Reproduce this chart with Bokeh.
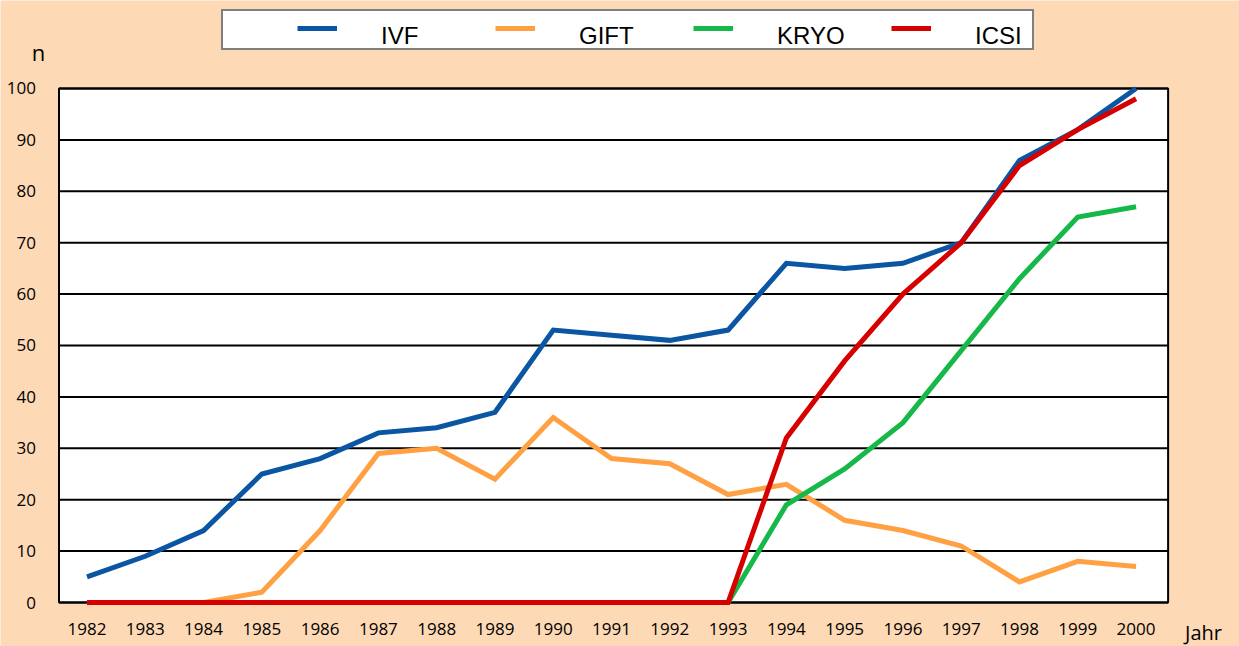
from bokeh.plotting import figure
from bokeh.models import Range1d, FixedTicker, Legend, LegendItem, Label, LinearAxis
from bokeh.embed import file_html
from bokeh.resources import INLINE

years = [1982, 1983, 1984, 1985, 1986, 1987, 1988, 1989, 1990, 1991,
         1992, 1993, 1994, 1995, 1996, 1997, 1998, 1999, 2000]
ivf = [5, 9, 14, 25, 28, 33, 34, 37, 53, 52, 51, 53, 66, 65, 66, 70, 86, 92, 100]
gift = [0, 0, 0, 2, 14, 29, 30, 24, 36, 28, 27, 21, 23, 16, 14, 11, 4, 8, 7]
kryo = [0, 0, 0, 0, 0, 0, 0, 0, 0, 0, 0, 0, 19, 26, 35, 49, 63, 75, 77]
icsi = [0, 0, 0, 0, 0, 0, 0, 0, 0, 0, 0, 0, 32, 47, 60, 70, 85, 92, 98]
y_ticks = [0, 10, 20, 30, 40, 50, 60, 70, 80, 90, 100]
series_names = ["IVF", "GIFT", "KRYO", "ICSI"]

PEACH = "#FDD9B5"
COLORS = ["#0A56A3", "#FFA043", "#17B84A", "#D70000"]

# plot-area extent (in data units) and the whole-canvas view range
X_LO, X_HI = 1981.52, 2000.55
Y_LO, Y_HI = 0, 100

W, H = 1239, 646
p = figure(width=W, height=H, min_border=0,
           x_range=Range1d(1980.516, 2001.775), y_range=Range1d(-8.56, 117.12),
           x_axis_location=None, y_axis_location=None,
           output_backend="svg", toolbar_location=None)
p.background_fill_color = PEACH
p.border_fill_color = PEACH
p.outline_line_color = None
p.xgrid.visible = False
p.ygrid.visible = False

# plot area with border
p.quad(left=[X_LO], right=[X_HI], bottom=[Y_LO], top=[Y_HI],
       fill_color="white", line_color="black", line_width=2)
# horizontal gridlines
p.segment(x0=[X_LO] * len(y_ticks), x1=[X_HI] * len(y_ticks), y0=y_ticks, y1=y_ticks,
          line_color="black", line_width=2)

xaxis = LinearAxis(fixed_location=Y_LO, ticker=FixedTicker(ticks=years))
yaxis = LinearAxis(fixed_location=X_LO, ticker=FixedTicker(ticks=y_ticks))
for ax in (xaxis, yaxis):
    ax.axis_line_color = None
    ax.major_tick_line_color = None
    ax.minor_tick_line_color = None
    ax.major_tick_in = 0
    ax.major_tick_out = 0
    ax.major_label_text_font = "Open Sans"
    ax.major_label_text_font_size = "17px"
    ax.major_label_text_color = "black"
xaxis.major_label_standoff = 20
yaxis.major_label_standoff = 23
yaxis.major_label_text_baseline = "alphabetic"
p.add_layout(xaxis, "below")
p.add_layout(yaxis, "left")

dummy = p.line(years, ivf, line_alpha=0)

renderers = []
for name, vals, col in zip(series_names, [ivf, gift, kryo, icsi], COLORS):
    r = p.line(years, vals, line_color=col, line_width=5, line_join="miter")
    renderers.append(r)

# legend frame
box = Legend(items=[LegendItem(label=" ", renderers=[dummy])],
             location=(221, 596), orientation="horizontal",
             padding=0, margin=0, glyph_width=809, glyph_height=37,
             label_standoff=0, label_width=0, label_height=0,
             label_text_font_size="1px",
             background_fill_color="white", background_fill_alpha=1,
             border_line_color="black", border_line_width=2)
p.add_layout(box, "center")

common = dict(orientation="horizontal", padding=0, margin=0, spacing=44,
              glyph_width=40, glyph_height=12, label_height=28,
              label_standoff=44, label_width=70,
              background_fill_alpha=0, border_line_color=None)

# legend swatches (slightly higher than the labels, as in the original)
swatches = Legend(items=[LegendItem(label=" ", renderers=[r]) for r in renderers],
                  location=(297, 604), label_text_font_size="1px", **common)
p.add_layout(swatches, "center")

# legend labels
labels = Legend(items=[LegendItem(label=n, renderers=[dummy]) for n in series_names],
                location=(297, 596),
                label_text_font="Liberation Sans", label_text_font_size="24px",
                label_text_color="black", **common)
p.add_layout(labels, "center")

p.add_layout(Label(x=38, y=595, x_units="screen", y_units="screen", text="n",
                   text_font="Open Sans", text_font_size="22px", text_color="black",
                   text_align="center", text_baseline="middle"))
p.add_layout(Label(x=1203, y=14, x_units="screen", y_units="screen", text="Jahr",
                   text_font="Open Sans", text_font_size="20px", text_color="black",
                   text_align="center", text_baseline="middle"))

open("out.html", "w").write(file_html(p, INLINE))
